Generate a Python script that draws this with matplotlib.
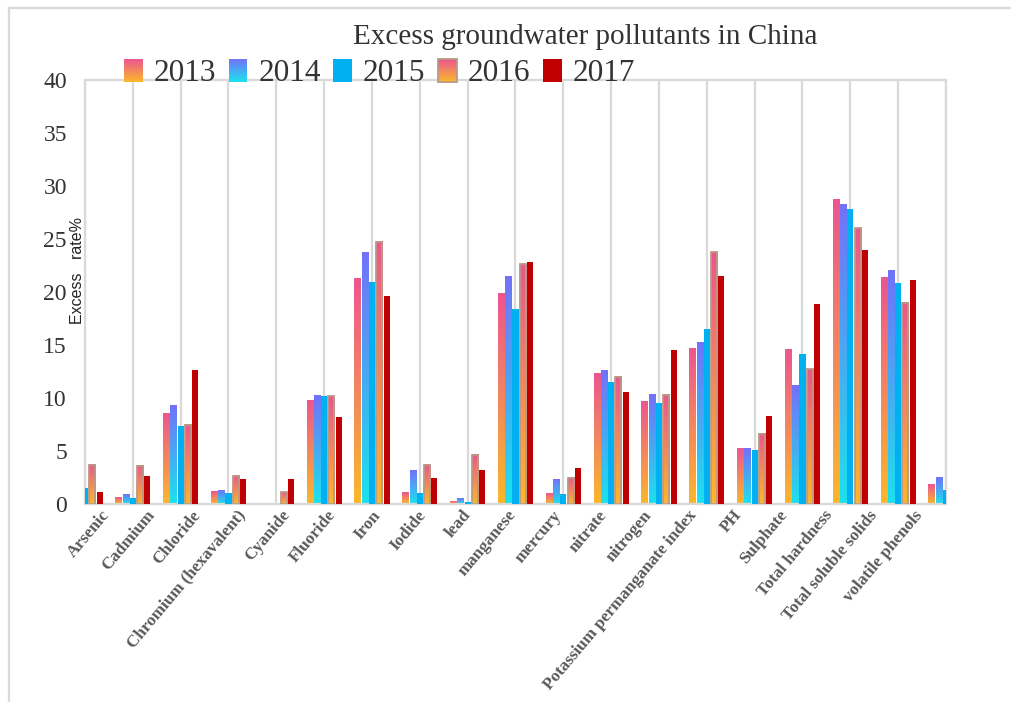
import numpy as np
import matplotlib
matplotlib.use('Agg')
import matplotlib.pyplot as plt
from matplotlib.colors import LinearSegmentedColormap, to_rgb
from matplotlib.legend_handler import HandlerBase
from matplotlib.patches import Rectangle
from matplotlib.lines import Line2D

plt.rcParams['font.family'] = ['Liberation Serif', 'DejaVu Serif']

pollutants = ['Arsenic', 'Cadmium', 'Chloride', 'Chromium (hexavalent)', 'Cyanide',
              'Fluoride', 'Iron', 'Iodide', 'lead', 'manganese', 'mercury', 'nitrate',
              'nitrogen', 'Potassium permanganate index', 'PH', 'Sulphate',
              'Total hardness', 'Total soluble solids', 'volatile phenols']
years = ['2013', '2014', '2015', '2016', '2017']

# excess rate (%) per pollutant, one list per year
v2013 = [1.0, 0.6, 8.5, 1.15, 0, 9.8, 21.3, 1.13, 0.2, 19.9, 1.0, 12.3, 9.65, 14.65,
         5.25, 14.55, 28.7, 21.4, 1.8]
v2014 = [1.3, 0.85, 9.25, 1.3, 0, 10.25, 23.7, 3.2, 0.53, 21.45, 2.35, 12.6, 10.3, 15.2,
         5.2, 11.2, 28.3, 22.0, 2.5]
v2015 = [1.55, 0.55, 7.4, 1.0, 0, 10.15, 20.95, 1.0, 0.2, 18.4, 0.9, 11.55, 9.55, 16.55,
         5.1, 14.15, 27.85, 20.85, 1.3]
v2016 = [3.7, 3.6, 7.5, 2.65, 1.1, 10.15, 24.75, 3.7, 4.65, 22.6, 2.5, 12.0, 10.3, 23.75,
         6.65, 12.7, 26.0, 19.0, 1.5]
v2017 = [1.15, 2.65, 12.65, 2.35, 2.35, 8.2, 19.6, 2.5, 3.2, 22.8, 3.4, 10.6, 14.55, 21.55,
         8.3, 18.9, 24.0, 21.15, 1.0]
values = [v2013, v2014, v2015, v2016, v2017]

pink_orange = ('#EC5590', '#FBB82A')
violet_cyan = ('#7272F8', '#1CE2EE')
styles = [
    dict(grad=pink_orange, edge='none'),
    dict(grad=violet_cyan, edge='none'),
    dict(color='#00B0F0', edge='none'),
    dict(grad=pink_orange, edge='#B99A85'),
    dict(color='#C00000', edge='none'),
]
grid_c = '#D9D9D9'

fig = plt.figure(figsize=(10.12, 7.02), dpi=100)
ax = fig.add_axes([85 / 1012, 1 - 504 / 702, 861 / 1012, 424 / 702])

x = np.arange(len(pollutants))
step = 0.152
width = 0.127
ramp = np.linspace(0, 1, 256).reshape(-1, 1)

for k, (vals, st) in enumerate(zip(values, styles)):
    pos = x + (k - 2) * step
    if 'grad' in st:
        bars = ax.bar(pos, vals, width, facecolor='none', edgecolor=st['edge'],
                      linewidth=1.3, zorder=3)
        cmap = LinearSegmentedColormap.from_list('g%d' % k, [st['grad'][1], st['grad'][0]])
        for b in bars:
            h = b.get_height()
            if h <= 0:
                continue
            x0 = b.get_x()
            ax.imshow(ramp, extent=[x0, x0 + b.get_width(), 0, h], origin='lower',
                      cmap=cmap, aspect='auto', interpolation='bilinear', zorder=2.5)
    else:
        ax.bar(pos, vals, width, color=st['color'], zorder=3)

ax.set_xlim(0, len(pollutants) - 1)
ax.set_ylim(0, 40)
ax.set_yticks(np.arange(0, 41, 5))
ax.set_xticks(x)
ax.set_xticklabels([])
ax.tick_params(length=0, labelsize=17, labelcolor='#333333', pad=13)
ax.grid(axis='x', color=grid_c, linewidth=1.6)
ax.set_axisbelow(True)
for s in ax.spines.values():
    s.set_color(grid_c)
    s.set_linewidth(1.6)

# category labels, slanted
label_pos = 0.46 + np.arange(len(pollutants)) * 0.944
for xp, name in zip(label_pos, pollutants):
    ax.text(xp, -0.02, name, transform=ax.get_xaxis_transform(), rotation=50,
            rotation_mode='anchor', ha='right', va='center', fontsize=12.3,
            fontweight='bold', color='#595959', clip_on=False)

ax.text(-0.009, 0.55, 'Excess   rate%', transform=ax.transAxes, rotation=90,
        ha='center', va='center', fontsize=11.5, family='Liberation Sans', color='#222222')

fig.text(0.578, 0.947, 'Excess groundwater pollutants in China', ha='center', va='center',
         fontsize=21, color='#333333')


class GradHandler(HandlerBase):
    def __init__(self, st):
        super().__init__()
        self.st = st

    def create_artists(self, legend, orig_handle, xdescent, ydescent, width, height,
                       fontsize, trans):
        out = []
        if 'grad' in self.st:
            top = np.array(to_rgb(self.st['grad'][0]))
            bot = np.array(to_rgb(self.st['grad'][1]))
            n = 14
            for i in range(n):
                t = (i + 0.5) / n
                out.append(Rectangle((-xdescent, -ydescent + i * height / n), width,
                                     height / n * 1.05, facecolor=bot + (top - bot) * t,
                                     edgecolor='none', transform=trans))
            if self.st['edge'] != 'none':
                out.append(Rectangle((-xdescent, -ydescent), width, height, fill=False,
                                     edgecolor=self.st['edge'], linewidth=1.3,
                                     transform=trans))
        else:
            out.append(Rectangle((-xdescent, -ydescent), width, height,
                                 facecolor=self.st['color'], edgecolor='none',
                                 transform=trans))
        return out


handles = [Rectangle((0, 0), 1, 1) for _ in years]
fig.legend(handles, years, handler_map={h: GradHandler(st) for h, st in zip(handles, styles)},
           loc='upper left', bbox_to_anchor=(124 / 1012, 1 - 59 / 702), ncol=5,
           frameon=False, fontsize=22.5, handlelength=0.6, handleheight=0.75,
           handletextpad=0.35, columnspacing=0.4, borderpad=0, borderaxespad=0,
           labelcolor='#333333')

# thin frame around the chart area
fig.add_artist(Line2D([9 / 1012, 9 / 1012], [0, 1 - 8 / 702], color=grid_c, lw=1.6))
fig.add_artist(Line2D([9 / 1012, 1], [1 - 8 / 702, 1 - 8 / 702], color=grid_c, lw=1.6))

fig.savefig('out.png', dpi=100)
